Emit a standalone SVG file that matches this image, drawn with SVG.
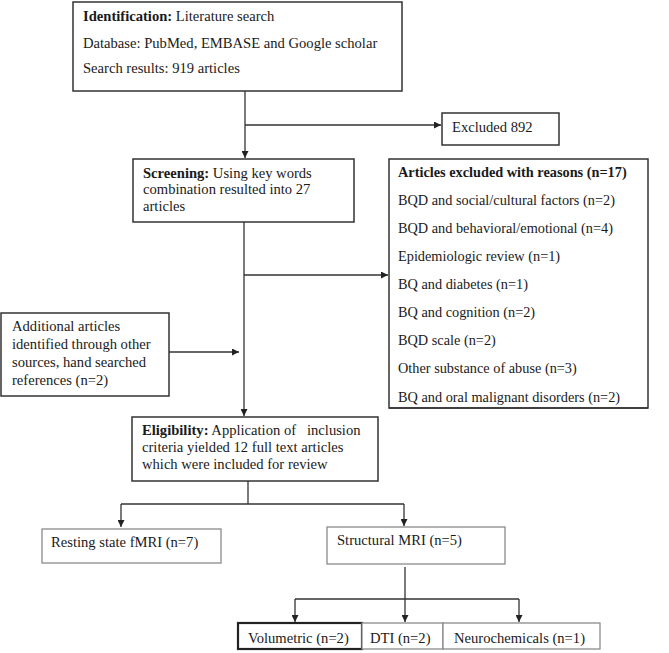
<svg xmlns="http://www.w3.org/2000/svg" width="669" height="653" viewBox="0 0 669 653">
<style>
text { font-family: "Liberation Serif", "Times New Roman", serif; font-size: 14.6px; fill: #1a1a1a; }
.b { font-weight: bold; }
.box { fill: #fff; stroke: #333; stroke-width: 1.5; }
.gbox { fill: #fff; stroke: #8a8a8a; stroke-width: 1.3; }
.con { fill: none; stroke: #333; stroke-width: 1.3; }
.sm { font-size: 14.3px; }
.pre { white-space: pre; }
</style>
<defs>
<marker id="arr" viewBox="0 0 10 10" refX="10" refY="5" markerWidth="7" markerHeight="7" markerUnits="userSpaceOnUse" orient="auto">
<path d="M0,0 L10,5 L0,10 z" fill="#222"/>
</marker>
<clipPath id="clipR"><rect x="389" y="159" width="259" height="248"/></clipPath>
</defs>

<g id="connectors">
<path class="con" d="M245,91 V158" marker-end="url(#arr)"/>
<path class="con" d="M245,125 H441" marker-end="url(#arr)"/>
<path class="con" d="M244,222 V416" marker-end="url(#arr)"/>
<path class="con" d="M244,275 H388" marker-end="url(#arr)"/>
<path class="con" d="M169,352 H239" marker-end="url(#arr)"/>
<path class="con" d="M248,481 V504"/>
<path class="con" d="M121,504 H404"/>
<path class="con" d="M121,504 V527" marker-end="url(#arr)"/>
<path class="con" d="M404,504 V526" marker-end="url(#arr)"/>
<path class="con" d="M405,567 V599"/>
<path class="con" d="M295,599 H519"/>
<path class="con" d="M295,599 V622" marker-end="url(#arr)"/>
<path class="con" d="M405,599 V622" marker-end="url(#arr)"/>
<path class="con" d="M519,599 V622" marker-end="url(#arr)"/>
</g>

<g id="identification">
<rect class="box" x="73" y="2" width="329" height="89"/>
<text x="83" y="21"><tspan class="b">Identification:</tspan> Literature search</text>
<text x="83" y="48">Database: PubMed, EMBASE and Google scholar</text>
<text x="83" y="73">Search results: 919 articles</text>
</g>

<g id="excluded">
<rect class="box" x="442" y="113" width="117" height="32"/>
<text x="452" y="132">Excluded 892</text>
</g>

<g id="screening">
<rect class="box" x="133" y="159" width="221" height="63"/>
<text x="143" y="178"><tspan class="b">Screening:</tspan> Using key words</text>
<text x="143" y="194">combination resulted into 27</text>
<text x="143" y="211">articles</text>
</g>

<g id="reasons">
<rect class="box" x="389" y="159" width="259" height="249"/>
<g clip-path="url(#clipR)">
<text class="b sm" x="398" y="177">Articles excluded with reasons (n=17)</text>
<text class="sm" x="398" y="205">BQD and social/cultural factors (n=2)</text>
<text class="sm" x="398" y="233">BQD and behavioral/emotional (n=4)</text>
<text class="sm" x="398" y="261">Epidemiologic review (n=1)</text>
<text class="sm" x="398" y="289">BQ and diabetes (n=1)</text>
<text class="sm" x="398" y="317">BQ and cognition (n=2)</text>
<text class="sm" x="398" y="345">BQD scale (n=2)</text>
<text class="sm" x="398" y="373">Other substance of abuse (n=3)</text>
<text class="sm" x="398" y="402">BQ and oral malignant disorders (n=2)</text>
</g>
<path d="M389,408 H648" stroke="#333" stroke-width="1.5"/>
</g>

<g id="additional">
<rect class="box" x="1" y="313" width="168" height="83"/>
<text x="12" y="331">Additional articles</text>
<text x="12" y="349">identified through other</text>
<text x="12" y="367">sources, hand searched</text>
<text x="12" y="385">references (n=2)</text>
</g>

<g id="eligibility">
<rect class="box" x="132" y="417" width="246" height="64"/>
<text class="pre" x="142" y="435"><tspan class="b">Eligibility:</tspan> Application of   inclusion</text>
<text x="142" y="452">criteria yielded 12 full text articles</text>
<text x="142" y="469">which were included for review</text>
</g>

<g id="resting">
<rect class="gbox" x="42" y="529" width="179" height="34"/>
<text x="51" y="547">Resting state fMRI (n=7)</text>
</g>

<g id="structural">
<rect class="gbox" x="327" y="527" width="178" height="37"/>
<text x="337" y="545">Structural MRI (n=5)</text>
</g>

<g id="volumetric">
<rect x="238" y="623" width="124" height="26" fill="#fff" stroke="#222" stroke-width="2.2"/>
<text x="248" y="643">Volumetric (n=2)</text>
</g>

<g id="dti">
<rect class="gbox" x="362" y="623" width="81" height="26"/>
<text x="370" y="643">DTI (n=2)</text>
</g>

<g id="neurochemicals">
<rect class="gbox" x="443" y="623" width="157" height="26"/>
<text x="454" y="643">Neurochemicals (n=1)</text>
</g>
</svg>
